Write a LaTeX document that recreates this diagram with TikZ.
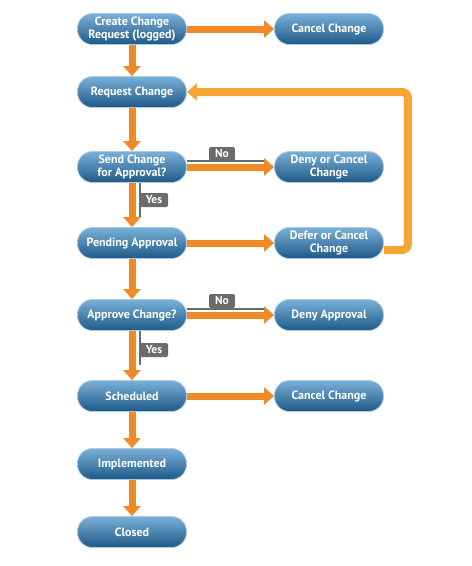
\documentclass[tikz,border=0pt]{standalone}
\usepackage{fontspec}
\setmainfont{PT Sans}
\usetikzlibrary{arrows.meta,positioning,shapes}
\definecolor{boxtop}{HTML}{7AB0D8}
\definecolor{boxbottom}{HTML}{1D5987}
\definecolor{boxedge}{HTML}{A9CCE6}
\definecolor{flow}{HTML}{F08A26}
\definecolor{loopflow}{HTML}{F6A535}
\definecolor{tabgray}{HTML}{6B6B6B}

\begin{document}
\begin{tikzpicture}[x=1pt,y=-1pt,
    stage/.style={rounded corners=15pt,top color=boxtop,bottom color=boxbottom,draw=boxedge,line width=0.8pt,
      minimum width=109pt,minimum height=31pt,inner sep=1pt,align=center,text=white,
      font=\bfseries\fontsize{12}{12.5}\selectfont},
    flowarrow/.style={draw=flow,line width=7pt,-{Triangle[width=17pt,length=10pt]}},
    loopline/.style={draw=loopflow,line width=8pt,rounded corners=6pt,-{Triangle[width=17pt,length=10pt]}},
    answer/.style={fill=tabgray,rounded corners=1.5pt,text=white,inner xsep=6pt,inner ysep=1pt,
      minimum height=14pt,font=\bfseries\fontsize{11.5}{11.5}\selectfont},
    tabline/.style={draw=tabgray,line width=2pt}]
    \useasboundingbox (0,0) rectangle (472,566);
    % left column
    \node[stage] (create) at (132,29) {Create Change\\Request (logged)};
    \node[stage] (request) at (132,92) {Request Change};
    \node[stage] (send) at (132,167) {Send Change\\for Approval?};
    \node[stage] (pending) at (132,243) {Pending Approval};
    \node[stage] (approve) at (132,315) {Approve Change?};
    \node[stage] (scheduled) at (132,396) {Scheduled};
    \node[stage] (implemented) at (132,464) {Implemented};
    \node[stage] (closed) at (132,532) {Closed};
    % right column
    \node[stage] (cancelreq) at (329,29) {Cancel Change};
    \node[stage] (denycancel) at (329,167) {Deny or Cancel\\Change};
    \node[stage] (defer) at (329,243) {Defer or Cancel\\Change};
    \node[stage] (deny) at (329,315) {Deny Approval};
    \node[stage] (cancelsched) at (329,396) {Cancel Change};
    % answer tabs
    \draw[tabline] ([yshift=6pt]send.east) -- ([xshift=-10pt,yshift=6pt]denycancel.west);
    \draw[tabline] ([xshift=8pt]send.south) -- ([xshift=8pt,yshift=-34pt]send.south);
    \draw[tabline] ([yshift=6pt]approve.east) -- ([xshift=-10pt,yshift=6pt]deny.west);
    \draw[tabline] ([xshift=8pt]approve.south) -- ([xshift=8pt,yshift=-34pt]approve.south);
    \node[answer] (nosend) at (222,154) {No};
    \node[answer] (yessend) at (154,200) {Yes};
    \node[answer] (noapprove) at (222,301) {No};
    \node[answer] (yesapprove) at (154,350) {Yes};
    % connectors
    \draw[flowarrow] (create) -- (request);
    \draw[flowarrow] (request) -- (send);
    \draw[flowarrow] (send) -- (pending);
    \draw[flowarrow] (pending) -- (approve);
    \draw[flowarrow] (approve) -- (scheduled);
    \draw[flowarrow] (scheduled) -- (implemented);
    \draw[flowarrow] (implemented) -- (closed);
    \draw[flowarrow] (create) -- (cancelreq);
    \draw[flowarrow] (send) -- (denycancel);
    \draw[flowarrow] (pending) -- (defer);
    \draw[flowarrow] (approve) -- (deny);
    \draw[flowarrow] (scheduled) -- (cancelsched);
    \draw[loopline] ([yshift=-7pt]defer.east) -- ++(24,0) |- (request.east);
  \end{tikzpicture}
\end{document}
